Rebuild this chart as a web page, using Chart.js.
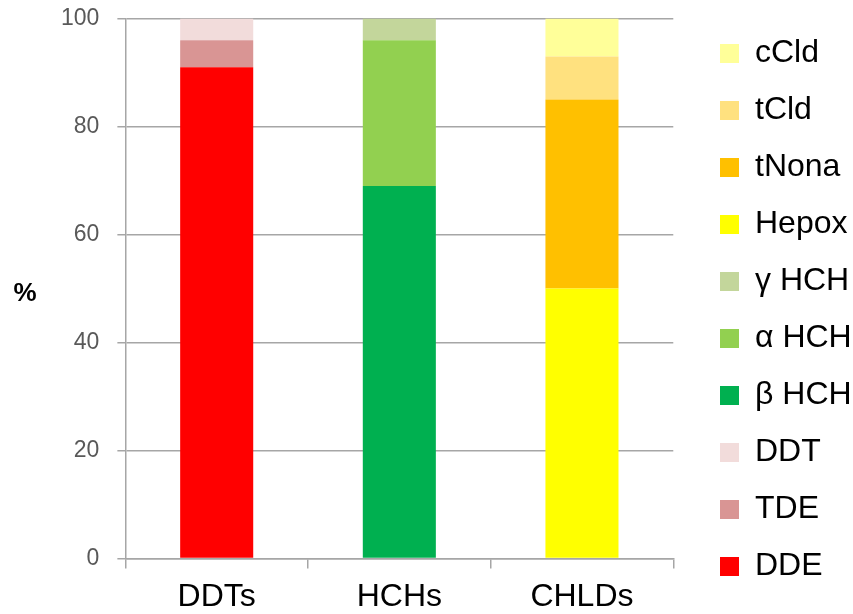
<!DOCTYPE html>
<html>
<head>
<meta charset="utf-8">
<script src="https://cdn.jsdelivr.net/npm/chart.js@4"></script>
<style>
html,body{margin:0;padding:0;background:#fff;}
#wrap{width:853px;height:614px;position:relative;}
</style>
</head>
<body>
<div id="wrap"><canvas id="c"></canvas></div>
<script>
const categories = ["DDTs", "HCHs", "CHLDs"];
const yTicks = [0, 20, 40, 60, 80, 100];
const DDE    = [91, null, null];
const TDE    = [5, null, null];
const DDT    = [4, null, null];
const bHCH   = [null, 69, null];
const aHCH   = [null, 27, null];
const gHCH   = [null, 4, null];
const Hepox  = [null, null, 50];
const tNona  = [null, null, 35];
const tCld   = [null, null, 8];
const cCld   = [null, null, 7];

const seriesNames = ["DDE", "TDE", "DDT", "\u03b2 HCH", "\u03b1 HCH", "\u03b3 HCH", "Hepox", "tNona", "tCld", "cCld"];
const seriesData = [DDE, TDE, DDT, bHCH, aHCH, gHCH, Hepox, tNona, tCld, cCld];
const seriesColors = ["#FF0000", "#D99594", "#F2DCDB", "#00B050", "#92D050", "#C3D69B", "#FFFF00", "#FFC000", "#FFE17F", "#FFFF99"];

const FONT = '"Liberation Sans", Arial, sans-serif';

const pctTitle = {
  id: 'pctTitle',
  afterLayout(chart) {
    const L = chart.legend;
    if (L) {
      const dx = 695 - L.left;
      L.left += dx; L.right += dx;
      L.top = 3; L.bottom = chart.height + 3;
    }
  },
  afterDraw(chart) {
    const ctx = chart.ctx;
    const a = chart.chartArea;
    ctx.save();
    ctx.font = 'bold 26px ' + FONT;
    ctx.fillStyle = '#000';
    ctx.textAlign = 'center';
    ctx.textBaseline = 'middle';
    ctx.fillText('%', 25, (a.top + a.bottom) / 2 + 5);
    ctx.restore();
  }
};

new Chart(document.getElementById('c'), {
  type: 'bar',
  data: {
    labels: categories,
    datasets: seriesNames.map((n, i) => ({
      label: n,
      data: seriesData[i],
      backgroundColor: seriesColors[i],
      borderWidth: 0,
      barPercentage: 0.4,
      categoryPercentage: 1.0
    }))
  },
  options: {
    responsive: true,
    maintainAspectRatio: false,
    animation: false,
    layout: { padding: { left: 43, top: 0, right: 13, bottom: -11 } },
    plugins: {
      tooltip: { enabled: false },
      legend: {
        position: 'right',
        reverse: true,
        labels: {
          color: '#000',
          font: { size: 32, family: FONT },
          boxWidth: 19,
          boxHeight: 19,
          padding: 25
        }
      }
    },
    scales: {
      x: {
        stacked: true,
        grid: { drawOnChartArea: false, offset: true, color: '#A6A6A6', lineWidth: 1.5, tickLength: 10 },
        border: { color: '#A6A6A6', width: 1.5 },
        ticks: { color: '#000', padding: 9, font: { size: 32, family: FONT } }
      },
      y: {
        stacked: true,
        min: 0,
        max: 100,
        afterBuildTicks(scale) { scale.ticks = yTicks.map(v => ({ value: v })); },
        grid: { color: '#A6A6A6', lineWidth: 1.5, tickLength: 8 },
        border: { color: '#A6A6A6', width: 1.5 },
        ticks: { color: '#595959', padding: 18, font: { size: 23, family: FONT, lineHeight: 0.05 } }
      }
    }
  },
  plugins: [pctTitle]
});
</script>
</body>
</html>
